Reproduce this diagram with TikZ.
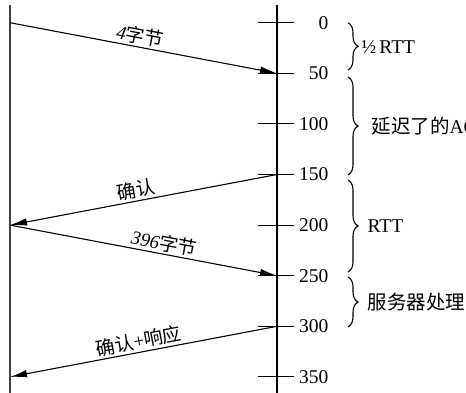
\documentclass[tikz,border=0pt]{standalone}
\usepackage{fontspec}
\setmainfont{Liberation Serif}
\newfontfamily\cjk{Noto Sans CJK SC}
\usetikzlibrary{arrows.meta,decorations.pathreplacing}
\begin{document}
\begin{tikzpicture}[x=1pt,y=-1pt,line width=1.1pt,
  msg/.style={-{Latex[length=17pt,width=7.5pt]}},
  num/.style={anchor=east,font=\fontsize{19.5}{19.5}\selectfont,inner sep=0pt},
  br/.style={decorate,decoration={brace,amplitude=10pt}},
  blab/.style={anchor=west,font=\fontsize{19.5}{19.5}\selectfont,inner sep=0pt},
  mlab/.style={sloped,above,inner sep=2pt,font=\fontsize{19}{19}\selectfont}]
\useasboundingbox (0,0) rectangle (466,393);
\clip (0,0) rectangle (466,393);
% time lines
\coordinate (Ltop) at (10,5);
\coordinate (Lbot) at (10,393);
\coordinate (Rtop) at (277,5);
\coordinate (Rbot) at (277,393);
\draw[black!75] (Ltop) -- (Lbot);
\draw (Rtop) -- (Rbot);
\foreach \t in {0,50,...,350}{
  \coordinate (R\t) at (277,{22.7+1.012*\t});
  \coordinate (T\t) at (258,{22.7+1.012*\t});
  \coordinate (U\t) at (294,{22.7+1.012*\t});
  \draw (T\t) -- (U\t);
  \node[num] (n\t) at (329,{22.7+1.012*\t}) {\t};
}
\coordinate (A0) at (10,22.7);
\coordinate (A200) at (10,{22.7+1.012*200});
\coordinate (A350) at (10,{22.7+1.012*350});
% messages
\draw[msg] (A0) -- node[mlab,pos=0.48] {{\itshape 4}{\cjk 字节}} (R50);
\draw[msg] (R150) -- node[mlab,pos=0.52] {\cjk 确认} (A200);
\draw[msg] (A200) -- node[mlab,pos=0.57] {{\itshape 396}{\cjk 字节}} (R250);
\draw[msg] (R300) -- node[mlab,pos=0.51] {{\cjk 确认}+{\cjk 响应}} (A350);
% braces
\coordinate (b1s) at (348,22.7); \coordinate (b1e) at (348,70);
\coordinate (b2s) at (348,77);   \coordinate (b2e) at (348,175);
\coordinate (b3s) at (348,180);  \coordinate (b3e) at (348,272);
\coordinate (b4s) at (348,277);  \coordinate (b4e) at (348,327);
\draw[br] (b1s) -- (b1e);
\draw[br] (b2s) -- (b2e);
\draw[br] (b3s) -- (b3e);
\draw[br] (b4s) -- (b4e);
\node[blab] (l1) at (361,47) {½\,RTT};
\node[blab] (l2) at (371,126) {{\cjk 延迟了的}ACK};
\node[blab] (l3) at (367,226) {RTT};
\node[blab] (l4) at (367,302) {\cjk 服务器处理};
\end{tikzpicture}
\end{document}
